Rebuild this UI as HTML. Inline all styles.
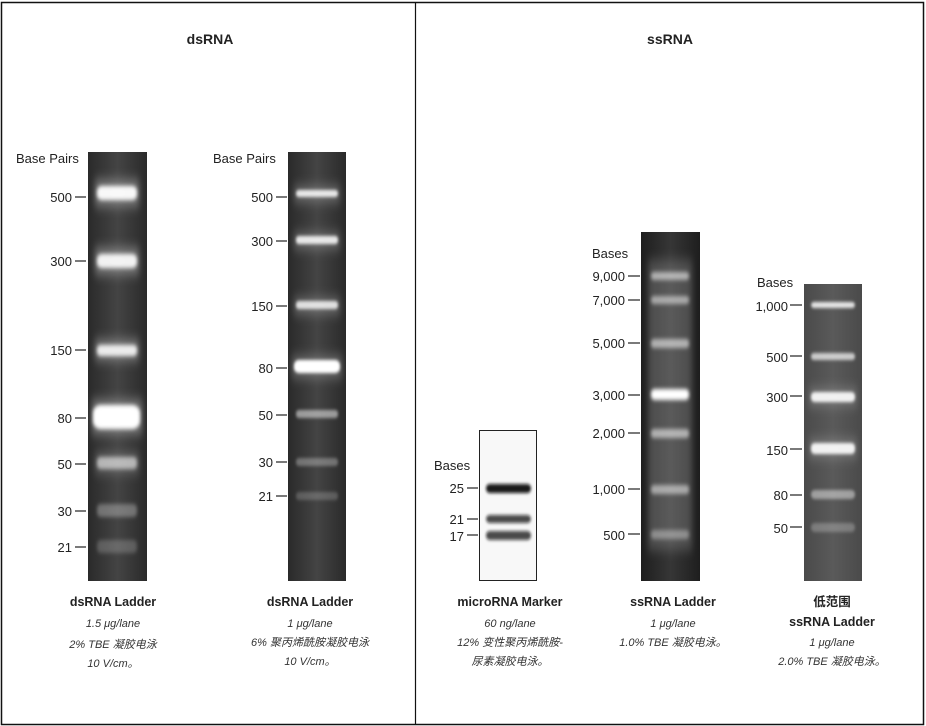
<!DOCTYPE html>
<html><head><meta charset="utf-8"><style>
html,body{margin:0;padding:0;background:#fff;}
svg{display:block;}
.t{font-family:"Liberation Sans","Noto Sans CJK SC",sans-serif;}
.lab{font-size:13px;fill:#222;text-anchor:end;}
.h{font-size:14px;font-weight:bold;fill:#222;text-anchor:middle;}
.cap{font-size:12.5px;font-weight:bold;fill:#222;text-anchor:middle;}
.it{font-size:11px;font-style:italic;fill:#333;text-anchor:middle;}
</style></head><body>
<svg width="926" height="726" viewBox="0 0 926 726" xmlns="http://www.w3.org/2000/svg">
<defs>
<filter id="b" x="-20%" y="-200%" width="140%" height="500%"><feGaussianBlur stdDeviation="1.6 2.2"/></filter>
<filter id="b2" x="-20%" y="-200%" width="140%" height="500%"><feGaussianBlur stdDeviation="1.2 1.5"/></filter>
<filter id="halo" x="-30%" y="-300%" width="160%" height="700%"><feGaussianBlur stdDeviation="3 6"/></filter>
<linearGradient id="g1" x1="0" x2="1"><stop offset="0" stop-color="#2a2a2a"/><stop offset="0.5" stop-color="#444"/><stop offset="1" stop-color="#2a2a2a"/></linearGradient>
<linearGradient id="g3" x1="0" x2="1"><stop offset="0" stop-color="#1e1e1e"/><stop offset="0.5" stop-color="#363636"/><stop offset="1" stop-color="#1e1e1e"/></linearGradient>
<linearGradient id="g5" x1="0" x2="1"><stop offset="0" stop-color="#4a4a4a"/><stop offset="0.5" stop-color="#5a5a5a"/><stop offset="1" stop-color="#4a4a4a"/></linearGradient>
</defs>
<rect x="1.5" y="2.5" width="922" height="722" fill="none" stroke="#111" stroke-width="1.5"/>
<line x1="415.5" y1="2" x2="415.5" y2="725" stroke="#111" stroke-width="1.2"/>
<g class="t">
<text class="h" x="210" y="44">dsRNA</text>
<text class="h" x="670" y="44">ssRNA</text>

<!-- Gel 1 -->
<rect x="88" y="152" width="59" height="429" fill="url(#g1)"/>
<g filter="url(#halo)" fill="#fff" opacity="0.35">
<rect x="95" y="180" width="44" height="26"/>
<rect x="95" y="248" width="44" height="26"/>
<rect x="95" y="340" width="44" height="20"/>
<rect x="92" y="400" width="50" height="34"/>
<rect x="95" y="453" width="44" height="20" opacity="0.6"/>
</g>
<g filter="url(#b)" fill="#fff">
<rect x="97" y="186" width="40" height="14" rx="5" opacity="0.95"/>
<rect x="97" y="254" width="40" height="14" rx="5" opacity="0.9"/>
<rect x="97" y="345" width="40" height="11" rx="4" opacity="0.85"/>
<rect x="93" y="405" width="47" height="24" rx="8" opacity="1"/>
<rect x="97" y="457" width="40" height="12" rx="4" opacity="0.55"/>
<rect x="97" y="504" width="40" height="13" rx="4" opacity="0.3"/>
<rect x="97" y="540" width="40" height="13" rx="4" opacity="0.2"/>
</g>
<text class="t" x="16" y="163" font-size="13" fill="#222">Base Pairs</text>
<g stroke="#222" stroke-width="1.2">
<line x1="75" y1="197" x2="86" y2="197"/><line x1="75" y1="261" x2="86" y2="261"/><line x1="75" y1="350" x2="86" y2="350"/><line x1="75" y1="418" x2="86" y2="418"/><line x1="75" y1="464" x2="86" y2="464"/><line x1="75" y1="511" x2="86" y2="511"/><line x1="75" y1="547" x2="86" y2="547"/>
</g>
<text class="lab" x="72" y="202">500</text><text class="lab" x="72" y="266">300</text><text class="lab" x="72" y="355">150</text><text class="lab" x="72" y="423">80</text><text class="lab" x="72" y="469">50</text><text class="lab" x="72" y="516">30</text><text class="lab" x="72" y="552">21</text>
<text class="cap" x="113" y="606">dsRNA Ladder</text>
<text class="it" x="113" y="627">1.5 μg/lane</text>
<text class="it" x="113" y="648">2% TBE 凝胶电泳</text>
<text class="it" x="113" y="667">10 V/cm。</text>

<!-- Gel 2 -->
<rect x="288" y="152" width="58" height="429" fill="url(#g1)"/>
<g filter="url(#halo)" fill="#fff" opacity="0.25">
<rect x="294" y="186" width="46" height="16"/>
<rect x="294" y="233" width="46" height="16"/>
<rect x="294" y="298" width="46" height="16"/>
<rect x="292" y="356" width="50" height="22"/>
</g>
<g filter="url(#b2)" fill="#fff">
<rect x="296" y="190" width="42" height="7" rx="3" opacity="0.85"/>
<rect x="296" y="236" width="42" height="8" rx="3" opacity="0.85"/>
<rect x="296" y="301" width="42" height="8" rx="3" opacity="0.8"/>
<rect x="294" y="360" width="46" height="13" rx="5" opacity="1"/>
<rect x="296" y="410" width="42" height="8" rx="3" opacity="0.5"/>
<rect x="296" y="458" width="42" height="8" rx="3" opacity="0.3"/>
<rect x="296" y="492" width="42" height="8" rx="3" opacity="0.2"/>
</g>
<text class="t" x="213" y="163" font-size="13" fill="#222">Base Pairs</text>
<g stroke="#222" stroke-width="1.2">
<line x1="276" y1="197" x2="287" y2="197"/><line x1="276" y1="241" x2="287" y2="241"/><line x1="276" y1="306" x2="287" y2="306"/><line x1="276" y1="368" x2="287" y2="368"/><line x1="276" y1="415" x2="287" y2="415"/><line x1="276" y1="462" x2="287" y2="462"/><line x1="276" y1="496" x2="287" y2="496"/>
</g>
<text class="lab" x="273" y="202">500</text><text class="lab" x="273" y="246">300</text><text class="lab" x="273" y="311">150</text><text class="lab" x="273" y="373">80</text><text class="lab" x="273" y="420">50</text><text class="lab" x="273" y="467">30</text><text class="lab" x="273" y="501">21</text>
<text class="cap" x="310" y="606">dsRNA Ladder</text>
<text class="it" x="310" y="627">1 μg/lane</text>
<text class="it" x="310" y="646">6% 聚丙烯酰胺凝胶电泳</text>
<text class="it" x="310" y="665">10 V/cm。</text>

<!-- microRNA -->
<rect x="479.5" y="430.5" width="57" height="150" fill="#f8f8f8" stroke="#222" stroke-width="1"/>
<g filter="url(#b2)" fill="#111">
<rect x="486" y="484" width="45" height="9" rx="4" opacity="0.95"/>
<rect x="486" y="515" width="45" height="8" rx="4" opacity="0.75"/>
<rect x="486" y="531" width="45" height="9" rx="4" opacity="0.75"/>
</g>
<text class="t" x="434" y="470" font-size="13" fill="#222">Bases</text>
<g stroke="#222" stroke-width="1.2">
<line x1="467" y1="488" x2="478" y2="488"/><line x1="467" y1="519" x2="478" y2="519"/><line x1="467" y1="535" x2="478" y2="535"/>
</g>
<text class="lab" x="464" y="493">25</text><text class="lab" x="464" y="524">21</text><text class="lab" x="464" y="541">17</text>
<text class="cap" x="510" y="606">microRNA Marker</text>
<text class="it" x="510" y="627">60 ng/lane</text>
<text class="it" x="510" y="646">12% 变性聚丙烯酰胺-</text>
<text class="it" x="510" y="665">尿素凝胶电泳。</text>

<!-- ssRNA -->
<rect x="641" y="232" width="59" height="349" fill="url(#g3)"/>
<g filter="url(#halo)" fill="#fff" opacity="0.18">
<rect x="648" y="260" width="44" height="290"/>
</g>
<g filter="url(#b)" fill="#fff">
<rect x="651" y="272" width="38" height="8" rx="3" opacity="0.55"/>
<rect x="651" y="296" width="38" height="8" rx="3" opacity="0.5"/>
<rect x="651" y="339" width="38" height="9" rx="3" opacity="0.55"/>
<rect x="651" y="389" width="38" height="11" rx="4" opacity="1"/>
<rect x="651" y="429" width="38" height="9" rx="3" opacity="0.55"/>
<rect x="651" y="485" width="38" height="9" rx="3" opacity="0.5"/>
<rect x="651" y="530" width="38" height="9" rx="3" opacity="0.35"/>
</g>
<text class="t" x="592" y="258" font-size="13" fill="#222">Bases</text>
<g stroke="#222" stroke-width="1.2">
<line x1="628" y1="276" x2="640" y2="276"/><line x1="628" y1="300" x2="640" y2="300"/><line x1="628" y1="343" x2="640" y2="343"/><line x1="628" y1="395" x2="640" y2="395"/><line x1="628" y1="433" x2="640" y2="433"/><line x1="628" y1="489" x2="640" y2="489"/><line x1="628" y1="534" x2="640" y2="534"/>
</g>
<text class="lab" x="625" y="281">9,000</text><text class="lab" x="625" y="305">7,000</text><text class="lab" x="625" y="348">5,000</text><text class="lab" x="625" y="400">3,000</text><text class="lab" x="625" y="438">2,000</text><text class="lab" x="625" y="494">1,000</text><text class="lab" x="625" y="540">500</text>
<text class="cap" x="673" y="606">ssRNA Ladder</text>
<text class="it" x="673" y="627">1 μg/lane</text>
<text class="it" x="673" y="646">1.0% TBE 凝胶电泳。</text>

<!-- low range -->
<rect x="804" y="284" width="58" height="297" fill="url(#g5)"/>
<g filter="url(#halo)" fill="#fff" opacity="0.2">
<rect x="809" y="388" width="48" height="18"/>
<rect x="809" y="439" width="48" height="19"/>
</g>
<g filter="url(#b2)" fill="#fff">
<rect x="811" y="302" width="44" height="6" rx="3" opacity="0.85"/>
<rect x="811" y="353" width="44" height="7" rx="3" opacity="0.7"/>
<rect x="811" y="392" width="44" height="10" rx="4" opacity="0.9"/>
<rect x="811" y="443" width="44" height="11" rx="4" opacity="0.9"/>
<rect x="811" y="490" width="44" height="9" rx="4" opacity="0.45"/>
<rect x="811" y="523" width="44" height="9" rx="4" opacity="0.25"/>
</g>
<text class="t" x="757" y="287" font-size="13" fill="#222">Bases</text>
<g stroke="#222" stroke-width="1.2">
<line x1="790" y1="305" x2="802" y2="305"/><line x1="790" y1="356" x2="802" y2="356"/><line x1="790" y1="396" x2="802" y2="396"/><line x1="790" y1="449" x2="802" y2="449"/><line x1="790" y1="495" x2="802" y2="495"/><line x1="790" y1="527" x2="802" y2="527"/>
</g>
<text class="lab" x="788" y="311">1,000</text><text class="lab" x="788" y="362">500</text><text class="lab" x="788" y="402">300</text><text class="lab" x="788" y="455">150</text><text class="lab" x="788" y="500">80</text><text class="lab" x="788" y="533">50</text>
<text class="cap" x="832" y="606">低范围</text>
<text class="cap" x="832" y="626">ssRNA Ladder</text>
<text class="it" x="832" y="646">1 μg/lane</text>
<text class="it" x="832" y="665">2.0% TBE 凝胶电泳。</text>
</g>
</svg>
</body></html>
